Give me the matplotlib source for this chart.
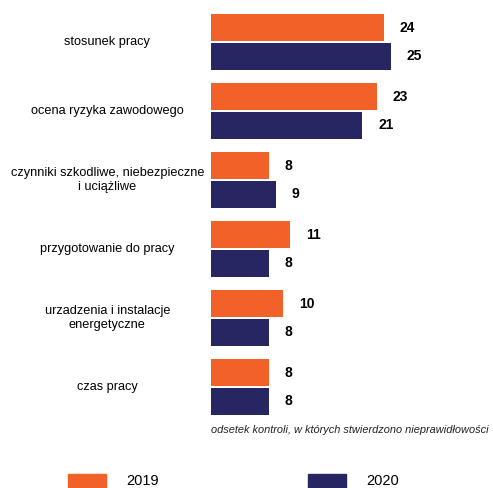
import matplotlib
matplotlib.use('Agg')
from matplotlib import pyplot as plt
from matplotlib.patches import Patch

categories = ["stosunek pracy",
              "ocena ryzyka zawodowego",
              "czynniki szkodliwe, niebezpieczne\ni uciążliwe",
              "przygotowanie do pracy",
              "urzadzenia i instalacje\nenergetyczne",
              "czas pracy"]
v2019 = [24, 23, 8, 11, 10, 8]
v2020 = [25, 21, 9, 8, 8, 8]
years = ["2019", "2020"]
note = "odsetek kontroli, w których stwierdzono nieprawidłowości"

orange = "#F26127"
navy = "#272662"

plt.rcParams['font.family'] = ['Liberation Sans', 'DejaVu Sans']

W, H = 493, 488
fig = plt.figure(figsize=(W/100, H/100), dpi=100)
ax = fig.add_axes([211/W, 0, 1 - 211/W, 1])
ax.set_xlim(0, (W - 211)/7.2)
ax.set_ylim((H - 42)/69, -42/69)
ax.axis("off")

h = 0.39
off = 0.21
ys = list(range(len(categories)))
ax.barh([y - off for y in ys], v2019, height=h, color=orange)
ax.barh([y + off for y in ys], v2020, height=h, color=navy)

for y, a, b, name in zip(ys, v2019, v2020, categories):
    ax.text(a + 2.2, y - off, str(a), ha="left", va="center",
            fontsize=10, fontweight="bold")
    ax.text(b + 2.2, y + off, str(b), ha="left", va="center",
            fontsize=10, fontweight="bold")
    ax.text(-14.4, y, name, ha="center", va="center", fontsize=9.2,
            linespacing=1.15, clip_on=False)

ax.text(0, (430 - 42)/69, note, ha="left", va="center", fontsize=7.9,
        style="italic", color="#222222")

handles = [Patch(color=orange), Patch(color=navy)]
fig.legend(handles, years, loc="center left", ncol=2,
           bbox_to_anchor=(68/W, 1 - 481/H), frameon=False,
           fontsize=10.5, handlelength=2.6, handleheight=1.1,
           handletextpad=1.4, columnspacing=10.2,
           borderpad=0, borderaxespad=0)

fig.savefig("out.png", dpi=100)
